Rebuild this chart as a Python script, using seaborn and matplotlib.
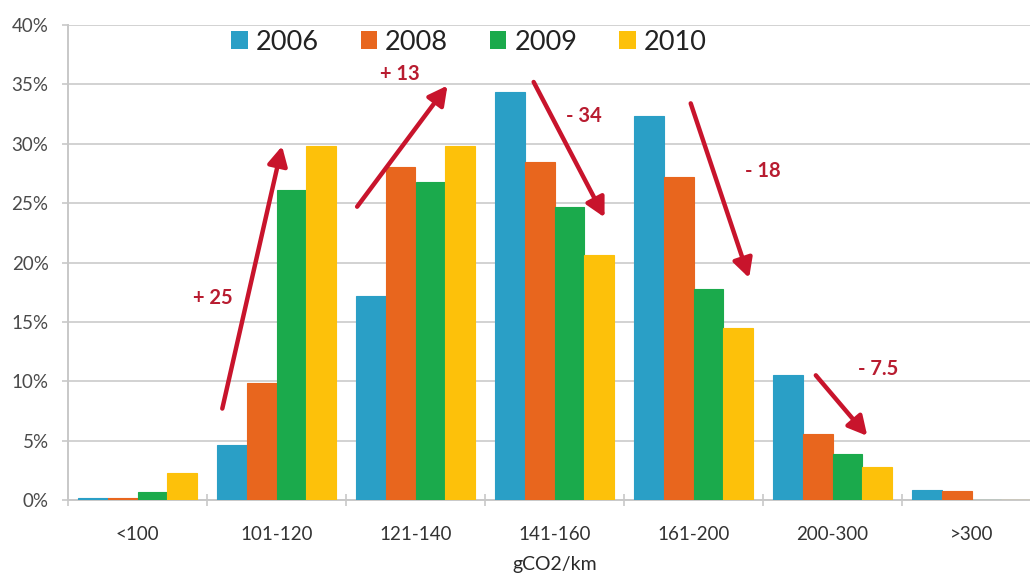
import matplotlib
matplotlib.use("Agg")
import matplotlib.pyplot as plt
from matplotlib.patches import Patch
from matplotlib.ticker import FixedLocator, PercentFormatter
import seaborn as sns
import pandas as pd

# Share of new cars by CO2 emission band (%)
bands = ["<100", "101-120", "121-140", "141-160", "161-200", "200-300", ">300"]
years = ["2006", "2008", "2009", "2010"]
share_2006 = [0.15, 4.6, 17.2, 34.4, 32.3, 10.5, 0.85]
share_2008 = [0.15, 9.85, 28.05, 28.5, 27.2, 5.55, 0.75]
share_2009 = [0.7, 26.1, 26.8, 24.7, 17.8, 3.85, 0.0]
share_2010 = [2.3, 29.8, 29.8, 20.6, 14.5, 2.75, 0.0]
colors = ["#2A9FC6", "#E8661E", "#1BAA4C", "#FDC10A"]

# Shift annotations: label, label position, arrow start and end (band index, %)
shift_labels = ["+ 25", "+ 13", "- 34", "- 18", "- 7.5"]
shift_text_pos = [(0.54, 17.0), (1.89, 35.9), (3.21, 32.3), (4.50, 27.7), (5.33, 11.0)]
shift_arrows = [((0.61, 7.7), (1.04, 29.8)),
                ((1.58, 24.7), (2.23, 34.9)),
                ((2.85, 35.2), (3.36, 23.8)),
                ((3.98, 33.4), (4.40, 18.7)),
                ((4.88, 10.5), (5.25, 5.4))]

df = pd.DataFrame({
    "band": bands * 4,
    "year": [y for y in years for _ in bands],
    "share": share_2006 + share_2008 + share_2009 + share_2010,
})

sns.set_theme(style="white")
plt.rcParams["font.family"] = ["Lato", "DejaVu Sans"]

fig = plt.figure(figsize=(10.30, 5.81), dpi=100)
W, H = 1030, 581
ax = fig.add_axes([68 / W, 1 - 500 / H, 973 / W, 475 / H])

sns.barplot(data=df, x="band", y="share", hue="year", order=bands,
            hue_order=years, palette=colors, width=0.85, gap=0,
            saturation=1, ax=ax, legend=False)
for bar in ax.patches:
    bar.set_edgecolor(bar.get_facecolor())
    bar.set_linewidth(0.8)
    bar.set_zorder(3)

ax.set_xlim(-0.5, 6.5)
ax.set_ylim(0, 40)
ax.yaxis.set_major_locator(FixedLocator(range(0, 41, 5)))
ax.yaxis.set_major_formatter(PercentFormatter(decimals=0))
ax.yaxis.grid(True, color="#D2D2D2", linewidth=1.4)
ax.set_axisbelow(True)

for side in ("top", "right"):
    ax.spines[side].set_visible(False)
for side in ("left", "bottom"):
    ax.spines[side].set_color("#C8C8C8")
    ax.spines[side].set_linewidth(1.4)

ax.tick_params(axis="y", which="major", left=True, length=4, width=1.2,
               color="#C8C8C8", pad=10, labelsize=13.5, labelcolor="#4A4A4A")
ax.tick_params(axis="x", which="major", bottom=False, pad=13,
               labelsize=13.5, labelcolor="#333333")
ax.xaxis.set_minor_locator(FixedLocator([i + 0.5 for i in range(-1, 7)]))
ax.tick_params(axis="x", which="minor", bottom=True, length=8, width=1.2,
               color="#C8C8C8", direction="inout")

ax.set_xlabel("gCO2/km", fontsize=14, color="#2A2A2A", labelpad=9)
ax.set_ylabel("")

arrow_red = "#C8142C"
text_red = "#B81C30"
for label, (tx, ty), (start, end) in zip(shift_labels, shift_text_pos, shift_arrows):
    ax.annotate("", xy=end, xytext=start,
                arrowprops=dict(arrowstyle="-|>,head_length=0.95,head_width=0.5",
                                color=arrow_red, lw=3.2, shrinkA=0, shrinkB=0))
    ax.text(tx, ty, label, color=text_red, fontsize=14.5, fontweight="bold",
            ha="center", va="center")

handles = [Patch(facecolor=c, edgecolor="none") for c in colors]
fig.legend(handles, years, loc="center", bbox_to_anchor=(469 / W, 1 - 42 / H),
           ncol=4, frameon=False, fontsize=19.5, handlelength=0.6,
           handleheight=0.6, handletextpad=0.3, columnspacing=1.55,
           labelcolor="#222222")

fig.savefig("out.png", dpi=100)
